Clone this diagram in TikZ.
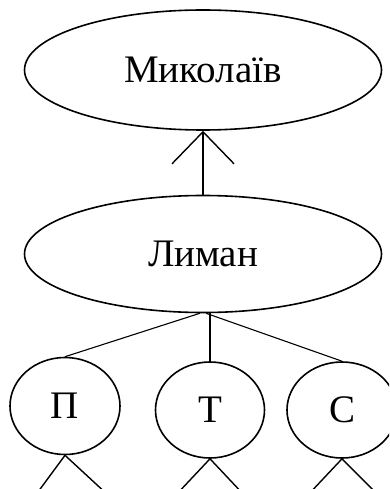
\documentclass[tikz,border=0pt]{standalone}
\usepackage{fontspec}
\setmainfont{Liberation Serif}
\usepackage{tikz}
\usetikzlibrary{shapes}
\usetikzlibrary{arrows.meta}
\tikzset{>=latex}
\tikzset{
  place/.style={draw, ellipse, line width=1.6pt, inner sep=0pt, font=\fontsize{39}{44}\selectfont},
  barb/.style={-{Straight Barb[length=32pt,width=62pt,line width=1.4pt]}, line width=1.4pt}
}
\begin{document}
\begin{tikzpicture}[x=1pt, y=-1pt]
      \useasboundingbox (0,0) rectangle (389,489);
      \clip (0,0) rectangle (389,489);
      % upper level
      \node (mykolaiv) at (203,70) [place, minimum width=357pt, minimum height=120pt] {Миколаїв};
      \node (lyman) at (203,254) [place, minimum width=357pt, minimum height=117pt] {Лиман};
      \draw[barb] (lyman.north) -- (mykolaiv.south);

      % lower level
      \node (p) at (65,406) [place, minimum width=110pt, minimum height=97pt] {П};
      \node (t) at (210,410) [place, minimum width=109pt, minimum height=96pt] {Т};
      \node (s) at (342,410) [place, minimum width=110pt, minimum height=96pt] {С};
      \draw[line width=1.1pt] (lyman.267) -- (p.north);
      \draw[line width=1.1pt] (t.north |- lyman.south) -- (t.north);
      \draw[line width=1.1pt] (lyman.273) -- (s.north);

      % lines leaving the picture
      \coordinate (p-l) at (35,496);
      \coordinate (p-r) at (109,496);
      \coordinate (t-l) at (175,496);
      \coordinate (t-r) at (245,496);
      \coordinate (s-l) at (307,496);
      \coordinate (s-r) at (379,496);
      \draw[line width=1.4pt] (p.south) -- (p-l);
      \draw[line width=1.4pt] (p.south) -- (p-r);
      \draw[line width=1.4pt] (t.south) -- (t-l);
      \draw[line width=1.4pt] (t.south) -- (t-r);
      \draw[line width=1.4pt] (s.south) -- (s-l);
      \draw[line width=1.4pt] (s.south) -- (s-r);
\end{tikzpicture}
\end{document}
